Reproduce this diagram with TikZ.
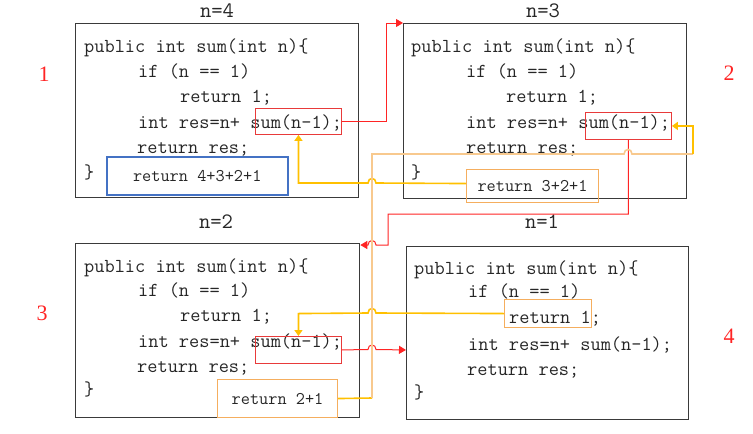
\documentclass[tikz,border=0pt]{standalone}
\usepackage{fontspec}
\newfontfamily\codefam{Latin Modern Mono}
\newfontfamily\numfam{Liberation Serif}
\usetikzlibrary{arrows.meta}
\definecolor{boxgray}{HTML}{3A3A3A}
\definecolor{myred}{HTML}{FF2424}
\definecolor{redbox}{HTML}{E83A3A}
\definecolor{gold}{HTML}{FFC000}
\definecolor{lightor}{HTML}{F8C98E}
\definecolor{retor}{HTML}{F5AE5E}
\definecolor{myblue}{HTML}{4472C4}
\begin{document}
\begin{tikzpicture}[x=1pt,y=-1pt,
  outerbox/.style={draw=boxgray, line width=1.3pt, anchor=north west, inner sep=0pt},
  sumbox/.style={draw=redbox, line width=0.9pt, anchor=north west, inner sep=0pt},
  retbox/.style={draw=retor, line width=1.1pt, anchor=north west, inner sep=0pt,
     font=\codefam\fontsize{17.8}{20}\selectfont, text=black!85},
  bluebox/.style={draw=myblue, line width=1.5pt, anchor=north west, inner sep=0pt,
     font=\codefam\fontsize{17.8}{20}\selectfont, text=black!85},
  codeln/.style={font=\codefam\fontsize{19.8}{22}\selectfont, anchor=base west, inner sep=0pt, text=black!85},
  titletxt/.style={font=\codefam\fontsize{22}{24}\selectfont, inner sep=0pt, text=black!85},
  numlbl/.style={font=\numfam\fontsize{22}{24}\selectfont, inner sep=0pt, text=myred},
  redln/.style={draw=myred, line width=1pt, -{Triangle[length=7pt,width=8pt]}},
  yelln/.style={draw=gold, line width=1.6pt, -{Triangle[length=6pt,width=8pt]}},
  yelplain/.style={draw=gold, line width=1.6pt},
  yellight/.style={draw=lightor, line width=1.6pt}
]
\useasboundingbox (0,0) rectangle (753,434);

% outer boxes
\node[outerbox, minimum width=283pt, minimum height=174pt] (b1) at (75,23) {};
\node[outerbox, minimum width=283pt, minimum height=175pt] (b2) at (403,23) {};
\node[outerbox, minimum width=284pt, minimum height=174pt] (b3) at (75,243) {};
\node[outerbox, minimum width=282pt, minimum height=173pt] (b4) at (406,246) {};

% titles
\node[titletxt] (t1) at (217,11) {n=4};
\node[titletxt] (t2) at (543,11) {n=3};
\node[titletxt] (t3) at (216,222) {n=2};
\node[titletxt] (t4) at (542,222) {n=1};

% numbers
\node[numlbl] (m1) at (44,74) {1};
\node[numlbl] (m2) at (729,73) {2};
\node[numlbl] (m3) at (42,313) {3};
\node[numlbl] (m4) at (729,336) {4};

% box 1 code
\node[codeln] (a1) at (84,52) {public int sum(int n)\{};
\node[codeln] (a2) at (138,77) {if (n == 1)};
\node[codeln] (a3) at (180,102) {return 1;};
\node[codeln] (a4) at (138,128) {int res=n+ sum(n-1);};
\node[codeln] (a5) at (137,153) {return res;};
\node[codeln] (a6) at (84,178) {\}};

% box 2 code
\node[codeln] (c1) at (411,52) {public int sum(int n)\{};
\node[codeln] (c2) at (466,77) {if (n == 1)};
\node[codeln] (c3) at (506,102) {return 1;};
\node[codeln] (c4) at (466,128) {int res=n+ sum(n-1);};
\node[codeln] (c5) at (466,153) {return res;};
\node[codeln] (c6) at (411,178) {\}};

% box 3 code
\node[codeln] (d1) at (84,272) {public int sum(int n)\{};
\node[codeln] (d2) at (138,296) {if (n == 1)};
\node[codeln] (d3) at (180,321) {return 1;};
\node[codeln] (d4) at (138,347) {int res=n+ sum(n-1);};
\node[codeln] (d5) at (137,372) {return res;};
\node[codeln] (d6) at (84,395) {\}};

% box 4 code
\node[codeln] (e1) at (414,274) {public int sum(int n)\{};
\node[codeln] (e2) at (468,297) {if (n == 1)};
\node[codeln] (e3) at (509,323) {return 1;};
\node[codeln] (e4) at (468,350) {int res=n+ sum(n-1);};
\node[codeln] (e5) at (467,375) {return res;};
\node[codeln] (e6) at (414,398) {\}};

% sum boxes
\node[sumbox, minimum width=86pt, minimum height=26pt] (s1) at (255,108) {};
\node[sumbox, minimum width=86pt, minimum height=27pt] (s2) at (585,112) {};
\node[sumbox, minimum width=86pt, minimum height=27pt] (s3) at (255,336) {};

% return boxes
\node[bluebox, minimum width=181pt, minimum height=38pt] (r1) at (106,156) {\raisebox{-3pt}{return 4+3+2+1}};
\node[retbox, minimum width=132pt, minimum height=33pt] (r2) at (466,169) {\raisebox{1pt}{return 3+2+1}};
\node[retbox, minimum width=120pt, minimum height=38pt] (r3) at (217,379) {\raisebox{-1pt}{return 2+1}};
\node[draw=retor, line width=1.1pt, anchor=north west, inner sep=0pt, minimum width=87pt, minimum height=28pt] (r4) at (504,299) {};

% red connectors (calls)
\draw[redln] (s1.east) -- ++(45,0) |- (b2.north west);
\draw[redln] (s2.south) |- (388,214) -- (388,245) -- (376,245)
   .. controls (376,239) and (368,239) .. (368,245) -- ([yshift=-2pt]b3.north east);
\draw[redln] (s3.east) -- (368,349.5) .. controls (368,343.5) and (376,343.5) .. (376,349.5)
   -- (b4.west |- s3.east);

% yellow connectors (returns)
\draw[yelln] ([yshift=2.5pt]r2.west) -- (376,183) .. controls (376,177) and (368,177) .. (368,183)
   -- (s1.south |- 0,183) -- (s1.south);
\draw[yelln] (r4.west) -- (376,313) .. controls (376,307) and (368,307) .. (368,313)
   -- (s3.north |- r4.west) -- (s3.north);
\draw[yelplain] (r3.east) -- (372,398);
\draw[yellight] (372,398) -- (372,154) -- (624,154) .. controls (624,148) and (632,148) .. (632,154) -- (693,154);
\draw[yelln] (693,154) |- (s2.east);
\end{tikzpicture}
\end{document}
